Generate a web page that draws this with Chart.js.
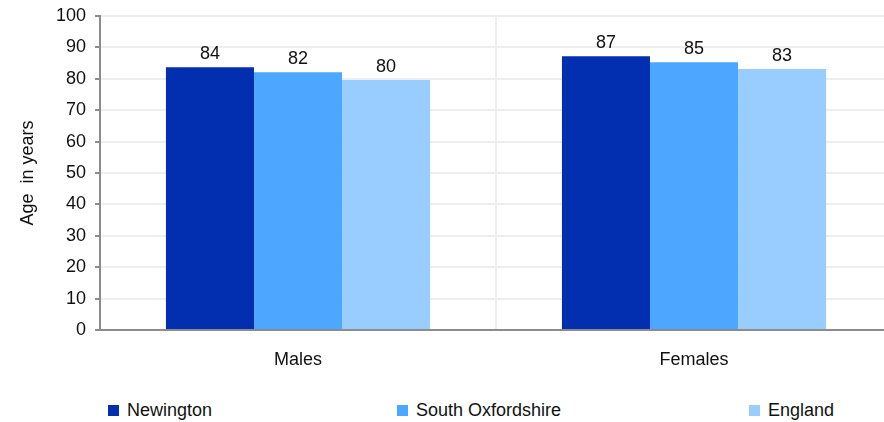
<!DOCTYPE html>
<html>
<head>
<meta charset="utf-8">
<script src="https://cdn.jsdelivr.net/npm/chart.js@4.4.0/dist/chart.umd.min.js"></script>
<style>
  body { margin: 0; overflow: hidden; background: #fff; font-family: "Liberation Sans", Arial, sans-serif; }
  #wrap { position: relative; width: 892px; height: 422px; }
  #chartBox { position: absolute; left: 0; top: 0; width: 892px; height: 380px; }
  #legend { position: absolute; left: 0; top: 399px; width: 884px; height: 22px; }
  .item { position: absolute; top: 0; font-size: 18px; color: #111; line-height: 22px; white-space: nowrap; }
  .box { display: inline-block; width: 11px; height: 11px; margin-right: 8px; vertical-align: 0px; }
</style>
</head>
<body>
<div id="wrap">
  <div id="chartBox"><canvas id="lifeChart"></canvas></div>
  <div id="legend"></div>
</div>
<script>
// categories and series
var categories = ["Males", "Females"];
var seriesNames = ["Newington", "South Oxfordshire", "England"];
var newington = [83.7, 87.2];
var southOxfordshire = [82.1, 85.3];
var england = [79.6, 83.1];
var yTicks = [0, 10, 20, 30, 40, 50, 60, 70, 80, 90, 100];

var colors = ["#022eb0", "#4da6ff", "#99ccff"];
var legendLeft = [108, 397, 749];

var fontFam = '"Liberation Sans", Arial, sans-serif';
var fontSize = 18;

// labels above every bar
var valueLabels = {
  id: "valueLabels",
  afterDatasetsDraw: function(chart) {
    let ctx = chart.ctx;
    ctx.save();
    ctx.font = fontSize + "px " + fontFam;
    ctx.fillStyle = "#111";
    ctx.textAlign = "center";
    ctx.textBaseline = "bottom";
    chart.data.datasets.forEach(function(ds, i) {
      chart.getDatasetMeta(i).data.forEach(function(bar, j) {
        ctx.fillText(Math.round(ds.data[j]), bar.x, bar.y - 4);
      });
    });
    ctx.restore();
  }
};

let ctx = document.getElementById("lifeChart").getContext("2d");
let seriesData = [newington, southOxfordshire, england];

let datasets = seriesNames.map(function(name, i) {
  return {
    label: name,
    data: seriesData[i],
    backgroundColor: colors[i],
    borderWidth: 0,
    categoryPercentage: 0.667,
    barPercentage: 1.0
  };
});

new Chart(ctx, {
  type: "bar",
  data: { labels: categories, datasets: datasets },
  plugins: [valueLabels],
  options: {
    responsive: true,
    maintainAspectRatio: false,
    animation: false,
    layout: { padding: { top: 16, right: 0, bottom: 0, left: 0 } },
    plugins: {
      legend: { display: false },
      tooltip: { enabled: false }
    },
    scales: {
      x: {
        grid: { color: "#eeeeee", lineWidth: 2, drawTicks: false, offset: true },
        border: { color: "#8c8c8c", width: 2 },
        ticks: { color: "#111", font: { size: fontSize, family: fontFam }, padding: 19 },
        afterFit: function(scale) { scale.height = 50; }
      },
      y: {
        min: 0,
        max: 100,
        afterBuildTicks: function(scale) {
          scale.ticks = yTicks.map(function(v) { return { value: v }; });
        },
        grid: { color: "#eeeeee", lineWidth: 2, tickColor: "#8c8c8c", tickLength: 5 },
        border: { color: "#8c8c8c", width: 2 },
        ticks: { color: "#111", font: { size: fontSize, family: fontFam }, padding: 9 },
        title: {
          display: true,
          text: "Age  in years",
          color: "#111",
          font: { size: fontSize, family: fontFam },
          padding: { top: 17, bottom: 0 }
        },
        afterFit: function(scale) {
          scale.width = 100;
          scale.paddingTop = 0;
          scale.paddingBottom = 0;
        }
      }
    }
  }
});

// legend spread across the bottom
let legendDiv = document.getElementById("legend");
seriesNames.forEach(function(name, i) {
  let item = document.createElement("div");
  item.className = "item";
  item.style.left = legendLeft[i] + "px";
  let box = document.createElement("span");
  box.className = "box";
  box.style.background = colors[i];
  item.appendChild(box);
  item.appendChild(document.createTextNode(name));
  legendDiv.appendChild(item);
});
</script>
</body>
</html>
